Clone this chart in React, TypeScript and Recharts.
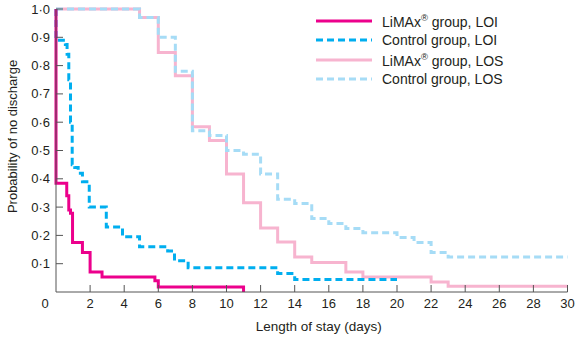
import { LineChart, Line, XAxis, YAxis, Label } from "recharts";

// Kaplan-Meier style curves: day at which each step starts, and the probability after it
const limaxLoiDays = [0, 0, 0.63, 0.75, 0.85, 0.97, 1.55, 2.0, 2.7, 5.8, 6.0, 11.0];
const limaxLoiProb = [1.0, 0.384, 0.34, 0.29, 0.278, 0.175, 0.14, 0.071, 0.053, 0.04, 0.018, 0];

const controlLoiDays = [0, 0, 0.55, 0.65, 0.75, 0.85, 0.95, 1.1, 1.3, 1.55, 1.95, 2.95, 3.9, 4.9, 6.55, 6.95, 7.75, 13.0, 14.0, 20.0];
const controlLoiProb = [1.0, 0.89, 0.875, 0.84, 0.75, 0.6, 0.45, 0.44, 0.42, 0.39, 0.3, 0.23, 0.195, 0.16, 0.145, 0.11, 0.086, 0.065, 0.044, 0.044];

const limaxLosDays = [0, 4.9, 6, 7, 8, 9, 10, 11, 12, 13, 14, 15, 17, 18, 22, 23, 30];
const limaxLosProb = [1.0, 0.97, 0.846, 0.764, 0.584, 0.535, 0.417, 0.315, 0.226, 0.177, 0.124, 0.104, 0.071, 0.053, 0.035, 0.02, 0.02];

const controlLosDays = [0, 4.9, 6, 7, 8, 9, 10, 11, 12, 13, 14, 15, 16, 17, 18, 20, 21, 22, 23, 30];
const controlLosProb = [1.0, 0.97, 0.9, 0.78, 0.57, 0.553, 0.5, 0.487, 0.417, 0.328, 0.313, 0.26, 0.242, 0.224, 0.209, 0.193, 0.175, 0.14, 0.124, 0.124];

const xTicks = [0, 2, 4, 6, 8, 10, 12, 14, 16, 18, 20, 22, 24, 26, 28, 30];
const yTicks = [0.1, 0.2, 0.3, 0.4, 0.5, 0.6, 0.7, 0.8, 0.9, 1.0];

const toPoints = (days: number[], prob: number[]) =>
  days.map((d, i) => ({ day: d, p: prob[i] }));

const FONT = "'Liberation Sans', Arial, Helvetica, sans-serif";
const TEXT = "#231F20";
const AXIS = "#555";

const series = [
  { name: "LiMAx", suffix: "group, LOI", color: "#EC008C", dash: undefined, width: 3, data: toPoints(limaxLoiDays, limaxLoiProb) },
  { name: "Control", suffix: "group, LOI", color: "#00AEEF", dash: "7 4", width: 3, data: toPoints(controlLoiDays, controlLoiProb) },
  { name: "LiMAx", suffix: "group, LOS", color: "#F7B4CF", dash: undefined, width: 3, data: toPoints(limaxLosDays, limaxLosProb) },
  { name: "Control", suffix: "group, LOS", color: "#A6DCF6", dash: "7 4", width: 3, data: toPoints(controlLosDays, controlLosProb) },
];

// draw order: LOS below, LOI on top
const drawOrder = [2, 3, 1, 0];

const YTick = ({ x, y, payload }: any) => (
  <g>
    <text x={x} y={y} dy="0.35em" textAnchor="end" fontSize={13} fill={TEXT} fontFamily={FONT}>
      {payload.value.toFixed(1).replace(".", "·")}
    </text>
    <line x1={x + 6} x2={x + 13} y1={y} y2={y} stroke={AXIS} />
  </g>
);

const XTick = ({ x, y, payload }: any) => (
  <g>
    <text x={payload.value === 0 ? x - 11 : x} y={y} dy="0.71em" textAnchor="middle" fontSize={13} fill={TEXT} fontFamily={FONT}>
      {payload.value}
    </text>
    {payload.value !== 0 && <line x1={x} x2={x} y1={y - 7} y2={y - 14} stroke={AXIS} />}
  </g>
);

function LegendBox() {
  return (
    <div style={{ position: "absolute", left: 316, top: 11, fontFamily: FONT, fontSize: 14, color: TEXT }}>
      {series.map((s, i) => (
        <div key={i} style={{ display: "flex", alignItems: "center", height: 19.5 }}>
          <svg width={56} height={6} style={{ marginRight: 10 }}>
            <line x1={0} x2={56} y1={3} y2={3} stroke={s.color} strokeWidth={3} strokeDasharray={s.dash} />
          </svg>
          <span style={{ whiteSpace: "nowrap" }}>
            {s.name}
            {s.name === "LiMAx" && <sup style={{ fontSize: 9.5 }}>®</sup>} {s.suffix}
          </span>
        </div>
      ))}
    </div>
  );
}

export default function App() {
  return (
    <div style={{ position: "absolute", left: 0, top: 0, width: 577, height: 340, background: "#fff" }}>
      <LineChart width={577} height={340} margin={{ top: 9, right: 9.5, left: 0, bottom: 0 }}>
        <XAxis
          type="number"
          dataKey="day"
          domain={[0, 30]}
          ticks={xTicks}
          interval={0}
          height={48}
          tickSize={0}
          tickMargin={7}
          tick={<XTick />}
          stroke={AXIS}
        >
          <Label
            content={({ viewBox }: any) => (
              <text
                x={viewBox.x + viewBox.width / 2 + 7}
                y={331}
                textAnchor="middle"
                fontSize={13.5}
                fill={TEXT}
                fontFamily={FONT}
              >
                Length of stay (days)
              </text>
            )}
          />
        </XAxis>
        <YAxis
          type="number"
          domain={[0, 1]}
          ticks={yTicks}
          interval={0}
          width={56}
          tickSize={0}
          tickMargin={6}
          tick={<YTick />}
          stroke={AXIS}
        >
          <Label
            content={({ viewBox }: any) => (
              <text
                transform={`translate(17, ${viewBox.y + viewBox.height / 2 - 14}) rotate(-90)`}
                textAnchor="middle"
                fontSize={13}
                fill={TEXT}
                fontFamily={FONT}
              >
                Probability of no discharge
              </text>
            )}
          />
        </YAxis>
        {drawOrder.map((i) => {
          const s = series[i];
          return (
            <Line
              key={i}
              data={s.data}
              dataKey="p"
              type="stepAfter"
              stroke={s.color}
              strokeWidth={s.width}
              strokeDasharray={s.dash}
              dot={false}
              activeDot={false}
              isAnimationActive={false}
            />
          );
        })}
      </LineChart>
      <LegendBox />
    </div>
  );
}
